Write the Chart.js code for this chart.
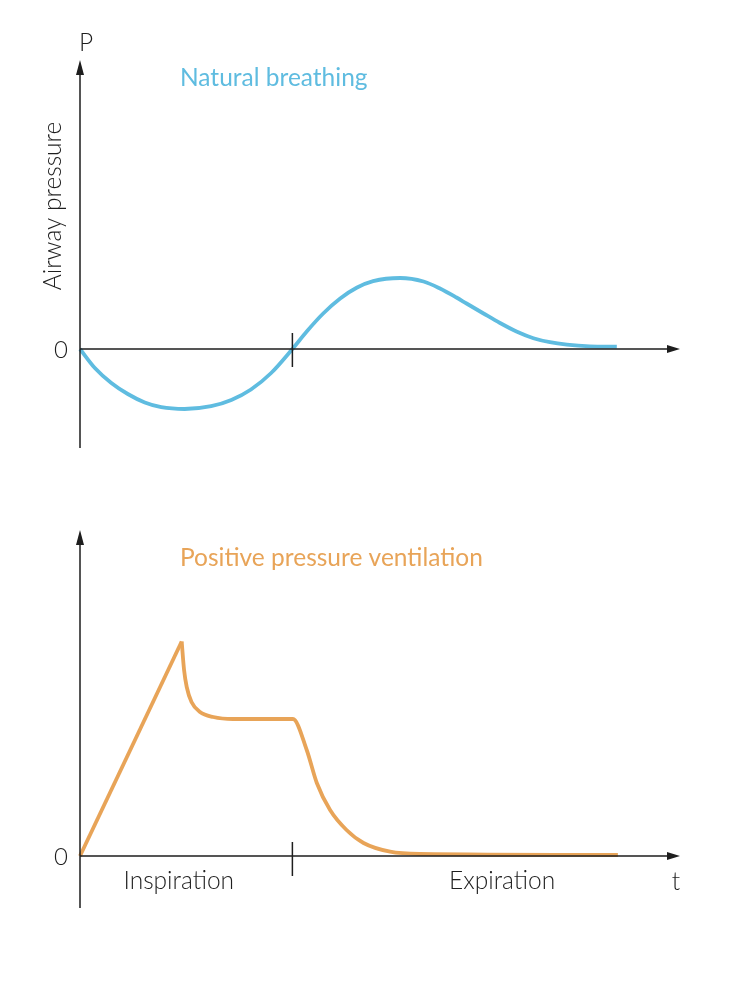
<!DOCTYPE html>
<html>
<head>
<meta charset="utf-8">
<script src="https://cdn.jsdelivr.net/npm/chart.js@4.4.1/dist/chart.umd.min.js"></script>
<style>
    html, body { margin: 0; padding: 0; background: #fff; }
    .panel { position: absolute; left: 0; width: 755px; }
</style>
</head>
<body>
<div class="panel" style="top:0;height:480px"><canvas id="natural"></canvas></div>
<div class="panel" style="top:480px;height:519px"><canvas id="ventilation"></canvas></div>
<script>
// natural breathing: time vs airway pressure
const naturalTime = [0, 0.28, 0.59, 0.9, 1.22, 1.53, 1.97, 2.47, 2.85, 3.22, 3.6, 4.0,
    4.27, 4.58, 4.9, 5.21, 5.52, 6.03, 6.47, 6.78, 7.09, 7.28, 7.6, 7.91, 8.22, 8.54, 8.85, 9.17, 9.6, 10.11];
const naturalPressure = [0, -1.9, -3.4, -4.5, -5.35, -5.82, -6.0, -5.72, -5.1, -4.05, -2.4, 0,
    1.75, 3.55, 5.05, 6.12, 6.78, 7.1, 6.75, 6.05, 5.15, 4.55, 3.55, 2.6, 1.75, 1.08, 0.68, 0.44, 0.27, 0.23];

// positive pressure ventilation: linear rise, then decay/plateau/expiration
const riseTime = [0, 1.915];
const risePressure = [0, 21.45];
const ventTime = [1.915, 1.96, 2.01, 2.1, 2.26, 2.51, 2.88, 4.01, 4.27, 4.46, 4.71, 5.02, 5.34, 5.84, 6.4, 10.13];
const ventPressure = [21.45, 18.6, 16.9, 15.4, 14.4, 13.9, 13.7, 13.7, 10.6, 7.3, 4.6, 2.6, 1.3, 0.43, 0.2, 0.1];

const phaseLabels = ['Inspiration', 'Expiration'];
const phaseCenters = [1.86, 7.95];
const phaseBoundary = 4;

const blue = '#5fbce0';
const orange = '#e8a458';
const ink = '#1e1e1e';

Chart.defaults.font.family = 'Lato';

const toPoints = (xs, ys) => xs.map((x, i) => ({ x: x, y: ys[i] }));

// draws arrowed axes, the phase tick and the annotation texts
const arrowAxes = {
    id: 'arrowAxes',
    afterDraw(chart, args, opts) {
        const ctx = chart.ctx;
        const area = chart.chartArea;
        const xs = chart.scales.x;
        const ys = chart.scales.y;
        const x0 = xs.getPixelForValue(0);
        const y0 = ys.getPixelForValue(0);
        ctx.save();
        ctx.strokeStyle = ink;
        ctx.fillStyle = ink;
        ctx.lineWidth = 1.5;

        ctx.beginPath();
        ctx.moveTo(x0, area.bottom);
        ctx.lineTo(x0, area.top + 8);
        ctx.moveTo(x0, y0);
        ctx.lineTo(area.right - 6, y0);
        const tx = xs.getPixelForValue(phaseBoundary);
        ctx.moveTo(tx, y0 - opts.tickUp);
        ctx.lineTo(tx, y0 + opts.tickDown);
        ctx.stroke();

        // arrow heads
        ctx.beginPath();
        ctx.moveTo(x0, area.top);
        ctx.lineTo(x0 - 4, area.top + 15);
        ctx.lineTo(x0 + 4, area.top + 15);
        ctx.closePath();
        ctx.fill();
        ctx.beginPath();
        ctx.moveTo(area.right, y0);
        ctx.lineTo(area.right - 13, y0 - 4);
        ctx.lineTo(area.right - 13, y0 + 4);
        ctx.closePath();
        ctx.fill();

        ctx.font = '300 24px Lato';
        ctx.textAlign = 'right';
        ctx.textBaseline = 'middle';
        ctx.fillText('0', x0 - 12, y0 + 1);

        ctx.textAlign = 'left';
        ctx.textBaseline = 'alphabetic';
        ctx.fillStyle = opts.color;
        ctx.font = '400 24.5px Lato';
        ctx.fillText(opts.title, 180, 86);

        ctx.fillStyle = ink;
        ctx.font = '300 24.5px Lato';
        if (opts.yLabel) {
            ctx.textAlign = 'center';
            ctx.fillText(opts.yLabel.axis, x0 + 6, 51);
            ctx.save();
            ctx.translate(61, 206);
            ctx.rotate(-Math.PI / 2);
            ctx.fillText(opts.yLabel.name, 0, 0);
            ctx.restore();
        }
        if (opts.phases) {
            ctx.textAlign = 'center';
            phaseLabels.forEach((label, i) => {
                ctx.fillText(label, xs.getPixelForValue(phaseCenters[i]), y0 + 33);
            });
            ctx.fillText('t', area.right - 4, y0 + 34);
        }
        ctx.restore();
    }
};

function lineOptions(yMin, yMax, padding, extra) {
    return {
        responsive: true,
        maintainAspectRatio: false,
        animation: false,
        layout: { padding: padding },
        scales: {
            x: { type: 'linear', min: 0, max: 11.3, display: false },
            y: { type: 'linear', min: yMin, max: yMax, display: false }
        },
        plugins: {
            legend: { display: false },
            tooltip: { enabled: false },
            arrowAxes: extra
        }
    };
}

new Chart(document.getElementById('natural'), {
    type: 'line',
    data: {
        datasets: [{
            label: 'Natural breathing',
            data: toPoints(naturalTime, naturalPressure),
            borderColor: blue,
            borderWidth: 3.8,
            pointRadius: 0,
            cubicInterpolationMode: 'monotone',
            borderJoinStyle: 'round',
            clip: false
        }]
    },
    options: lineOptions(-9.9, 28.9, { left: 80, right: 75, top: 60, bottom: 32 }, {
        title: 'Natural breathing',
        color: blue,
        tickUp: 16,
        tickDown: 18,
        yLabel: { axis: 'P', name: 'Airway pressure' }
    }),
    plugins: [arrowAxes]
});

new Chart(document.getElementById('ventilation'), {
    type: 'line',
    data: {
        datasets: [{
            label: 'Rise',
            data: toPoints(riseTime, risePressure),
            borderColor: orange,
            borderWidth: 3.8,
            pointRadius: 0,
            tension: 0,
            borderJoinStyle: 'round',
            clip: false
        }, {
            label: 'Positive pressure ventilation',
            data: toPoints(ventTime, ventPressure),
            borderColor: orange,
            borderWidth: 3.8,
            pointRadius: 0,
            cubicInterpolationMode: 'monotone',
            borderJoinStyle: 'round',
            clip: false
        }]
    },
    options: lineOptions(-5.2, 32.6, { left: 80, right: 75, top: 50, bottom: 91 }, {
        title: 'Positive pressure ventilation',
        color: orange,
        tickUp: 14,
        tickDown: 20,
        phases: true
    }),
    plugins: [arrowAxes]
});
</script>
</body>
</html>
